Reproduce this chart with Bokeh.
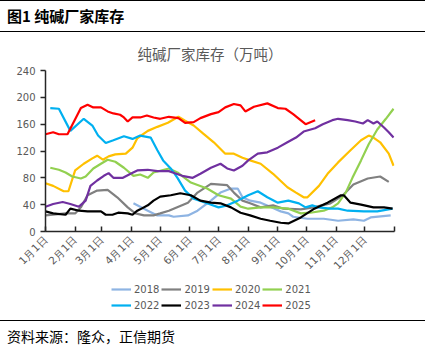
from math import pi
from bokeh.plotting import figure
from bokeh.models import Range1d, FixedTicker, Legend, LegendItem, Div
from bokeh.layouts import column
from bokeh.embed import file_html
from bokeh.resources import INLINE

# ---- data (day of year, inventory in 10k tonnes) ----
years = ["2018", "2019", "2020", "2021", "2022", "2023", "2024", "2025"]
colors = ["#8EB4E3", "#808080", "#FFC000", "#92D050", "#00B0F0", "#000000", "#7030A0", "#FF0000"]

d2018 = [92, 107, 117, 129, 134, 149, 159, 173, 183, 194, 201, 206, 214, 225, 235, 246, 254, 259, 274, 291, 306, 322, 333, 340, 361]
v2018 = [42, 31, 24, 24, 22, 24, 31, 46, 58, 64, 64, 51, 46, 43, 37, 30, 27, 22, 19, 19, 16, 18, 16, 21, 24]

d2019 = [0, 21, 31, 37, 44, 54, 65, 75, 86, 94, 103, 113, 120, 129, 134, 149, 159, 173, 183, 190, 197, 206, 214, 225, 238, 249, 267, 280, 298, 311, 322, 337, 350, 359]
v2019 = [24, 27, 27, 36, 54, 61, 62, 51, 36, 27, 24, 24, 27, 31, 34, 43, 58, 71, 70, 69, 58, 46, 42, 36, 39, 34, 33, 36, 42, 54, 70, 79, 82, 74]

d2020 = [0, 8, 19, 24, 31, 40, 49, 54, 60, 66, 73, 84, 91, 96, 107, 117, 128, 139, 146, 155, 165, 176, 188, 197, 206, 214, 225, 238, 253, 262, 270, 274, 286, 295, 306, 319, 330, 338, 343, 350, 359, 364]
v2020 = [72, 68, 60, 60, 91, 101, 109, 113, 107, 112, 115, 116, 125, 139, 150, 156, 162, 171, 165, 158, 146, 133, 116, 116, 110, 106, 101, 86, 66, 58, 51, 51, 68, 86, 103, 121, 136, 143, 140, 133, 116, 98]

d2021 = [5, 14, 21, 28, 37, 42, 50, 58, 65, 73, 82, 92, 99, 107, 113, 129, 138, 152, 169, 181, 194, 204, 212, 225, 238, 254, 267, 277, 291, 300, 306, 314, 321, 330, 338, 347, 356, 364]
v2021 = [95, 92, 88, 82, 79, 82, 94, 101, 107, 104, 95, 83, 85, 80, 88, 94, 88, 73, 64, 54, 49, 37, 34, 36, 36, 34, 27, 28, 31, 36, 42, 58, 80, 106, 130, 152, 168, 183]

d2022 = [5, 14, 26, 40, 49, 55, 63, 71, 82, 91, 99, 110, 117, 123, 131, 138, 146, 155, 169, 181, 190, 201, 212, 222, 232, 243, 254, 265, 272, 279, 285, 298, 306, 316, 333, 347, 363]
v2022 = [184, 183, 150, 168, 158, 143, 132, 136, 142, 138, 143, 140, 121, 106, 94, 80, 61, 49, 42, 36, 39, 46, 54, 60, 51, 43, 46, 42, 36, 39, 36, 34, 34, 31, 30, 30, 34]

d2023 = [0, 8, 21, 26, 35, 44, 58, 63, 70, 76, 86, 91, 96, 99, 107, 113, 120, 131, 141, 152, 162, 173, 183, 194, 204, 214, 225, 235, 246, 254, 267, 280, 295, 309, 312, 319, 330, 343, 354, 363]
v2023 = [30, 27, 25, 34, 31, 30, 30, 25, 25, 28, 27, 25, 31, 33, 39, 46, 52, 54, 57, 54, 46, 43, 42, 36, 28, 24, 19, 16, 13, 12, 21, 33, 43, 54, 54, 43, 40, 36, 36, 34]

d2024 = [0, 8, 18, 26, 35, 42, 47, 54, 61, 66, 71, 81, 89, 96, 107, 117, 129, 133, 143, 154, 162, 173, 183, 190, 197, 206, 212, 222, 232, 243, 253, 262, 270, 282, 290, 300, 306, 316, 324, 332, 337, 343, 347, 354, 359, 364]
v2024 = [37, 41, 44, 41, 37, 46, 68, 76, 83, 87, 80, 80, 86, 91, 92, 90, 90, 88, 83, 80, 86, 95, 101, 94, 91, 98, 106, 116, 118, 125, 133, 140, 149, 154, 160, 166, 168, 166, 164, 161, 166, 161, 164, 155, 148, 140]

d2025 = [0, 8, 14, 23, 37, 44, 50, 58, 65, 71, 78, 82, 86, 91, 99, 106, 113, 120, 129, 139, 146, 155, 162, 173, 181, 188, 197, 204, 209, 218, 232, 243, 251, 259, 272, 282]
v2025 = [145, 148, 145, 145, 184, 189, 185, 185, 179, 176, 174, 170, 164, 170, 170, 173, 170, 168, 171, 169, 162, 163, 169, 175, 178, 185, 190, 188, 179, 186, 191, 184, 183, 175, 160, 166]

month_days = [0, 31, 59, 90, 120, 151, 181, 212, 243, 273, 304, 334, 365]
month_labels = ["1月1日", "2月1日", "3月1日", "4月1日", "5月1日", "6月1日",
                "7月1日", "8月1日", "9月1日", "10月1日", "11月1日", "12月1日", ""]

series_days = [d2018, d2019, d2020, d2021, d2022, d2023, d2024, d2025]
series_vals = [v2018, v2019, v2020, v2021, v2022, v2023, v2024, v2025]

GRAY = "#595959"
AXF = "DejaVu Sans"

# ---------------- main chart ----------------
p = figure(width=425, height=246, x_range=Range1d(0, 365), y_range=Range1d(0, 240),
           output_backend="svg", toolbar_location=None,
           title="纯碱厂家库存（万吨）",
           min_border_left=45, min_border_right=31, min_border_top=38, min_border_bottom=47)
p.title.align = "left"
p.title.offset = 92
p.title.text_font = "Noto Sans CJK SC"
p.title.text_font_size = "14.5px"
p.title.text_font_style = "normal"
p.title.text_color = GRAY
p.title.standoff = 14

p.xgrid.visible = False
p.ygrid.visible = False
p.outline_line_color = None
p.background_fill_color = "white"
p.border_fill_color = "white"

ya = p.yaxis[0]
ya.ticker = FixedTicker(ticks=[0, 40, 80, 120, 160, 200, 240])
ya.axis_line_color = "#262626"
ya.axis_line_width = 1.5
ya.major_tick_line_color = "#262626"
ya.major_tick_line_width = 1.5
ya.major_tick_out = 5
ya.major_tick_in = 0
ya.minor_tick_line_color = None
ya.major_label_text_font = AXF
ya.major_label_text_font_size = "10px"
ya.major_label_text_color = GRAY
ya.major_label_standoff = 5

xa = p.xaxis[0]
xa.ticker = FixedTicker(ticks=month_days)
xa.major_label_overrides = {d: lab for d, lab in zip(month_days, month_labels)}
xa.axis_line_color = "#262626"
xa.axis_line_width = 1.5
xa.major_tick_line_color = "#262626"
xa.major_tick_line_width = 1.5
xa.major_tick_out = 0
xa.major_tick_in = 5
xa.minor_tick_line_color = None
xa.major_label_orientation = pi / 4
xa.major_label_text_font = AXF
xa.major_label_text_font_size = "10.5px"
xa.major_label_text_color = GRAY
xa.major_label_standoff = 6

for col, dd, vv in zip(colors, series_days, series_vals):
    p.line(dd, vv, line_color=col, line_width=2.2)

# ---------------- legend strip (same series, off-range so only legend shows) ----------------
pl = figure(width=425, height=42, x_range=Range1d(1000, 1001), y_range=Range1d(1000, 1001),
            output_backend="svg", toolbar_location=None,
            x_axis_location=None, y_axis_location=None,
            min_border_left=0, min_border_right=0, min_border_top=0, min_border_bottom=0)
pl.xgrid.visible = False
pl.ygrid.visible = False
pl.outline_line_color = None
pl.background_fill_color = "white"
pl.border_fill_color = "white"

items = []
for yr, col, dd, vv in zip(years, colors, series_days, series_vals):
    r = pl.line(dd, vv, line_color=col, line_width=2.2)
    items.append(LegendItem(label=yr, renderers=[r]))

for k, yloc in ((0, 25), (1, 9)):
    lg = Legend(items=items[4 * k:4 * k + 4], orientation="horizontal",
                location=(66, yloc), glyph_width=20, glyph_height=12, label_height=12,
                label_standoff=3, spacing=2, padding=0, margin=0,
                label_text_font=AXF, label_text_font_size="10px", label_text_color=GRAY,
                border_line_color=None, background_fill_alpha=0)
    pl.add_layout(lg, "center")

title_div = Div(text=('<div style="width:425px;height:32px;box-sizing:border-box;'
                      'border-top:1px solid #000;border-bottom:1.5px solid #000;'
                      "font-family:'Noto Sans CJK SC';font-weight:bold;font-size:15px;"
                      'line-height:29px;padding-left:7px;color:#000;white-space:nowrap;">'
                      '图1&nbsp;纯碱厂家库存</div>'),
                width=425, height=32, margin=0)
src_div = Div(text=('<div style="width:425px;height:32px;box-sizing:border-box;'
                    'border-top:1.5px solid #000;'
                    "font-family:'Noto Sans CJK SC';font-size:14px;"
                    'line-height:30px;padding-left:7px;color:#000;white-space:nowrap;">'
                    '资料来源：隆众，正信期货</div>'),
              width=425, height=32, margin=0)

layout = column(title_div, p, pl, src_div, spacing=0)
open("out.html", "w").write(file_html(layout, INLINE))
